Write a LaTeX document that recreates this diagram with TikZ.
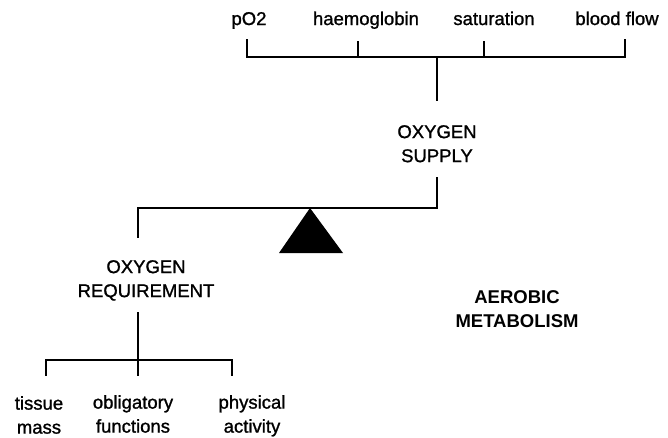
\documentclass[tikz,border=0pt]{standalone}
\usepackage{fontspec}
\setmainfont{Liberation Sans}
\newfontfamily\heavyish[FakeBold=1.2]{Liberation Sans}
\begin{document}
\begin{tikzpicture}[x=1pt,y=-1pt,
  lbl/.style={inner sep=0pt, align=center, font=\fontsize{18.5}{24}\selectfont\heavyish},
  boldlbl/.style={inner sep=0pt, align=center, font=\fontsize{18.5}{24}\selectfont\bfseries},
  wire/.style={line width=2.4pt, line cap=rect, line join=miter},
]
\useasboundingbox (0,0) rectangle (668,437);
% top factors
\node[lbl, anchor=base] (po2)  at (249,25) {pO2};
\node[lbl, anchor=base] (hb)   at (366,25) {haemoglobin};
\node[lbl, anchor=base] (sat)  at (494,25) {saturation};
\node[lbl, anchor=base] (flow) at (617,25) {blood flow};
\coordinate (t1) at (247,40);
\coordinate (t2) at (358,42);
\coordinate (t3) at (484,42);
\coordinate (t4) at (625,40);
\coordinate (hub) at (437,57);
\coordinate (hubend) at (437,100);
\draw[wire] (t1) -- (t1 |- hub) -- (t4 |- hub) -- (t4);
\draw[wire] (t2) -- (t2 |- hub);
\draw[wire] (t3) -- (t3 |- hub);
\draw[wire] (hub) -- (hubend);
% supply
\node[lbl, anchor=north] (supply) at (437,125) {OXYGEN\\SUPPLY};
% beam
\coordinate (s1) at (437,178);
\coordinate (bR) at (437,208);
\coordinate (bL) at (138,208);
\coordinate (bLend) at (138,237);
\draw[wire] (s1) -- (bR) -- (bL) -- (bLend);
% fulcrum
\fill (310,208) -- (279,253) -- (343,253) -- cycle;
% requirement
\node[lbl, anchor=north] (req) at (146,260) {OXYGEN\\REQUIREMENT};
\coordinate (r1) at (138,313);
\coordinate (rhub) at (138,360);
\coordinate (b1) at (46,375);
\coordinate (b2) at (138,375);
\coordinate (b3) at (232,375);
\draw[wire] (r1) -- (rhub);
\draw[wire] (b1) -- (b1 |- rhub) -- (b3 |- rhub) -- (b3);
\draw[wire] (rhub) -- (b2);
\node[lbl, anchor=north] (tissue) at (39,396) {tissue\\mass};
\node[lbl, anchor=north] (oblig) at (133,395) {obligatory\\functions};
\node[lbl, anchor=north] (phys) at (252,395) {physical\\activity};
% aerobic
\node[boldlbl, anchor=north] (aero) at (517,290) {AEROBIC\\METABOLISM};
\end{tikzpicture}
\end{document}
